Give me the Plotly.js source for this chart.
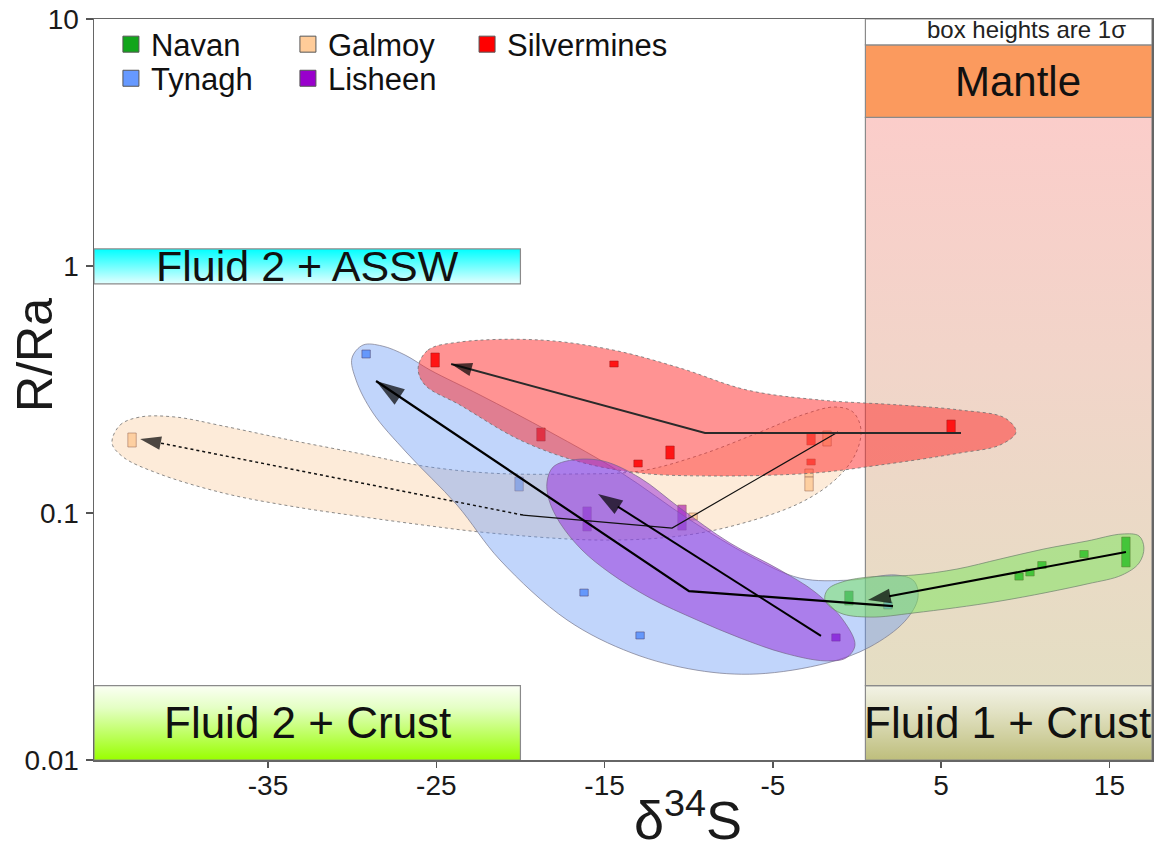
<!DOCTYPE html>
<html><head><meta charset="utf-8">
<script src="https://cdn.plot.ly/plotly-3.0.1.min.js"></script>
<style>html,body{margin:0;padding:0;background:#fff;} #chart{width:1162px;height:849px;}</style>
</head><body><div id="chart"></div>
<script>
// ---------- data (δ34S, R/Ra with 1σ box bounds) ----------
const navanX = [15.98, 13.49, 10.99, 10.28, 9.63, -0.48];
const navanLow = [0.0605, 0.0660, 0.0596, 0.0556, 0.0535, 0.0424];
const navanHigh = [0.0799, 0.0705, 0.0636, 0.0593, 0.0572, 0.0483];

const tynaghX = [-29.17, -20.08, -16.22, -12.89, 1.84];
const tynaghLow = [0.4242, 0.1228, 0.0461, 0.0309, 0.0409];
const tynaghHigh = [0.4570, 0.1398, 0.0492, 0.0330, 0.0436];

const lisheenX = [-16.04, -10.40, -1.25];
const lisheenLow = [0.0846, 0.0853, 0.0303];
const lisheenHigh = [0.1058, 0.1077, 0.0324];

const galmoyX = [-43.08, -9.74, -1.78, -2.85, -2.85];
const galmoyLow = [0.1850, 0.0937, 0.1867, 0.1398, 0.1228];
const galmoyHigh = [0.2108, 0.1000, 0.2148, 0.1507, 0.1398];

const silverX = [-25.07, -14.44, -18.78, -11.11, -13.01, -2.73, -2.73, 5.59];
const silverLow = [0.3901, 0.3901, 0.1956, 0.1654, 0.1535, 0.1885, 0.1564, 0.2108];
const silverHigh = [0.4444, 0.4124, 0.2208, 0.1867, 0.1639, 0.2108, 0.1654, 0.2379];

// ---------- field envelopes ----------
const silverEnvX = [-26.08,-25.49,-23.59,-18.84,-14.50,-10.52,-6.54,-2.20,2.55,6.12,8.79,9.45,8.50,6.12,1.37,-2.61,-8.56,-12.89,-16.46,-20.02,-23.59,-25.67];
const silverEnvY = [0.3864,0.4570,0.4924,0.5017,0.4570,0.3864,0.3148,0.2868,0.2736,0.2612,0.2424,0.2128,0.1885,0.1749,0.1564,0.1451,0.1412,0.1451,0.1609,0.1974,0.2736,0.3298];

const galmoyEnvX = [-44.27,-43.79,-42.60,-40.52,-37.67,-33.69,-29.71,-25.79,-21.81,-17.05,-12.89,-9.33,-5.76,-3.09,-1.31,-0.24,0.24,-0.12,-1.31,-3.39,-6.95,-10.52,-15.27,-21.81,-25.79,-29.71,-33.69,-37.67,-41.59,-43.61];
const galmoyEnvY = [0.1920,0.2271,0.2447,0.2447,0.2250,0.1974,0.1749,0.1550,0.1451,0.1438,0.1479,0.1717,0.2128,0.2516,0.2686,0.2563,0.2168,0.1717,0.1360,0.1098,0.0903,0.0807,0.0777,0.0830,0.0894,0.0972,0.1067,0.1205,0.1451,0.1685];

const tynaghEnvX = [-29.35,-28.22,-26.86,-25.37,-22.40,-18.24,-14.08,-9.92,-6.36,-3.39,-0.42,2.32,3.39,3.62,2.85,0.77,-1.78,-5.94,-9.51,-13.37,-17.23,-21.21,-23.77,-26.74,-28.76,-29.77,-30.01];
const tynaghEnvY = [0.4788,0.4745,0.4363,0.3793,0.3004,0.2128,0.1466,0.0937,0.0670,0.0545,0.0535,0.0561,0.0530,0.0453,0.0365,0.0287,0.0247,0.0223,0.0231,0.0271,0.0369,0.0645,0.1077,0.1749,0.2540,0.3455,0.4242];

const lisheenEnvX = [-18.42,-18.06,-16.93,-15.09,-12.89,-10.52,-7.55,-4.58,-2.50,-0.83,-0.12,-0.65,-1.90,-4.34,-6.95,-9.51,-12.30,-14.68,-16.34,-17.65,-18.30];
const lisheenEnvY = [0.1335,0.1535,0.1639,0.1624,0.1386,0.1048,0.0756,0.0588,0.0479,0.0369,0.0292,0.0259,0.0252,0.0271,0.0312,0.0369,0.0453,0.0572,0.0708,0.0911,0.1129];

const navanEnvX = [-1.90,-1.72,-0.71,0.77,3.39,5.94,8.50,11.11,13.67,15.75,16.76,17.05,16.76,15.75,13.67,8.50,3.39,0.77,-1.01];
const navanEnvY = [0.0444,0.0492,0.0530,0.0551,0.0561,0.0593,0.0651,0.0715,0.0770,0.0822,0.0807,0.0722,0.0627,0.0561,0.0516,0.0440,0.0394,0.0379,0.0394];

// ---------- evolution paths ----------
const navanPathX = [15.98, 0.65];           const navanPathY = [0.0695, 0.0444];
const tynaghPathX = [2.14, -9.98, -28.58];  const tynaghPathY = [0.0420, 0.0483, 0.3422];
const lisheenPathX = [-2.14, -15.39];       const lisheenPathY = [0.0318, 0.1194];
const silverPathX = [6.18, -9.03, -24.12];  const silverPathY = [0.2108, 0.2108, 0.4010];
const galmoyPathX = [-1.13, -10.99, -19.85]; const galmoyPathY = [0.2128, 0.0869, 0.0981];
const galmoyDotX = [-19.85, -42.60];        const galmoyDotY = [0.0981, 0.1993];

// ---------- legend / labels ----------
const legendRow1 = ['Navan', 'Galmoy'];
const legendRow1b = ['Silvermines'];
const legendRow2 = ['Tynagh', 'Lisheen'];
const xTickVals = [-35, -25, -15, -5, 5, 15];
const xTickText = ['-35', '-25', '-15', '-5', '5', '15'];
const yTickVals = [0.01, 0.1, 1, 10];
const yTickText = ['0.01', '0.1', '1', '10'];

const colors = {Navan:'#11a51b', Tynagh:'#6699ff', Galmoy:'#ffcc99', Lisheen:'#9900cc', Silvermines:'#ff0000'};

// ---------- traces ----------
function boxTrace(name, xs, lo, hi) {
  return {type:'bar', name, x: xs, base: lo, y: hi.map((h, i) => h - lo[i]), width: 0.5,
    marker:{color: colors[name], line:{color:'rgba(60,0,0,0.5)', width:1}},
    showlegend:false, hoverinfo:'skip'};
}
function close(a) { return a.concat([a[0]]); }
function envTrace(xs, ys, fill, lineColor, dash) {
  return {type:'scatter', mode:'lines', x: close(xs), y: close(ys), fill:'toself', fillcolor: fill,
    line:{shape:'spline', smoothing:1, color: lineColor, width:1, dash: dash || 'solid'},
    showlegend:false, hoverinfo:'skip'};
}
function pathTrace(xs, ys, color, width, headSize, dash) {
  return {type:'scatter', mode:'lines+markers', x: xs, y: ys,
    line:{color, width, dash: dash || 'solid'},
    marker:{symbol:'arrow', angleref:'previous', size: xs.map((_, i) => i === xs.length - 1 ? headSize : 0), color:'#000', line:{width:0}},
    showlegend:false, hoverinfo:'skip'};
}
function legendTrace(name, leg) {
  return {type:'scatter', mode:'markers', x:[null], y:[null], name, legend: leg,
    marker:{symbol:'square', size:20, color: colors[name], line:{color:'#555', width:1}}, hoverinfo:'skip'};
}

const data = [
  boxTrace('Navan', navanX, navanLow, navanHigh),
  boxTrace('Tynagh', tynaghX, tynaghLow, tynaghHigh),
  boxTrace('Lisheen', lisheenX, lisheenLow, lisheenHigh),
  boxTrace('Galmoy', galmoyX, galmoyLow, galmoyHigh),
  boxTrace('Silvermines', silverX, silverLow, silverHigh),
  envTrace(galmoyEnvX, galmoyEnvY, 'rgba(250,210,170,0.45)', 'rgba(110,110,110,0.8)', 'dot'),
  envTrace(tynaghEnvX, tynaghEnvY, 'rgba(100,150,245,0.40)', 'rgba(120,120,140,0.7)'),
  envTrace(silverEnvX, silverEnvY, 'rgba(255,40,40,0.50)', 'rgba(110,110,110,0.8)', 'dot'),
  envTrace(lisheenEnvX, lisheenEnvY, 'rgba(150,40,220,0.50)', 'rgba(120,100,140,0.7)'),
  envTrace(navanEnvX, navanEnvY, 'rgba(120,230,90,0.50)', 'rgba(110,130,110,0.7)'),
  pathTrace(galmoyPathX, galmoyPathY, '#111', 1.2, 0),
  pathTrace(galmoyDotX, galmoyDotY, '#111', 1.5, 22, 'dot'),
  pathTrace(silverPathX, silverPathY, '#2a2a2a', 2, 22),
  pathTrace(tynaghPathX, tynaghPathY, '#000', 2.2, 30),
  pathTrace(lisheenPathX, lisheenPathY, '#000', 2, 26),
  pathTrace(navanPathX, navanPathY, '#000', 2, 24),
].concat(
  legendRow1.map(n => legendTrace(n, 'legend')),
  legendRow1b.map(n => legendTrace(n, 'legend3')),
  legendRow2.map(n => legendTrace(n, 'legend2')));

// ---------- background gradient panels ----------
function grad(stops) {
  const s = stops.map(([o, c]) => `<stop offset='${o}' stop-color='${c}'/>`).join('');
  const svg = `<svg xmlns='http://www.w3.org/2000/svg' width='100' height='100' viewBox='0 0 100 100' preserveAspectRatio='none'><defs><linearGradient id='g' x1='0' y1='0' x2='0' y2='1'>${s}</linearGradient></defs><rect x='0' y='0' width='100' height='100' fill='url(#g)'/></svg>`;
  return 'data:image/svg+xml;charset=utf-8,' + encodeURIComponent(svg);
}
const L = Math.log10;
const X_MIN = -45.34, X_MAX = 17.53;
function img(src, x0, x1, yTop, yBot) {
  return {source: src, xref:'x', yref:'y', x: x0, y: L(yTop), sizex: x1 - x0, sizey: L(yTop) - L(yBot),
    sizing:'stretch', xanchor:'left', yanchor:'top', layer:'below'};
}
function rect(x0, x1, y0, y1, fill) {
  return {type:'rect', xref:'x', yref:'y', x0, x1, y0, y1, fillcolor: fill || 'rgba(0,0,0,0)',
    line:{color:'#8a8a8a', width:1.2}, layer:'between'};
}
function legendBox(x, y, entryWidth) {
  const o = {orientation:'h', x, y, xanchor:'left', yanchor:'top', font:{size:31, color:'#111'},
    bgcolor:'rgba(0,0,0,0)', borderwidth:0, itemclick:false, itemdoubleclick:false};
  if (entryWidth) { o.entrywidth = entryWidth; o.entrywidthmode = 'pixels'; }
  return o;
}

const layout = {
  width:1162, height:849,
  margin:{l:94, r:10, t:19, b:89, pad:0},
  paper_bgcolor:'#ffffff', plot_bgcolor:'#ffffff',
  font:{family:'Liberation Sans, Arial, sans-serif', color:'#1a1a1a'},
  barmode:'overlay',
  showlegend:true,
  xaxis:{range:[X_MIN, X_MAX], tickvals:xTickVals, ticktext:xTickText, ticks:'outside', ticklen:6, tickwidth:1.5,
    tickcolor:'#555', showgrid:false, zeroline:false, showline:true, linecolor:'#666', linewidth:1.5, mirror:true,
    tickfont:{size:28, color:'#1a1a1a'}, ticklabelstandoff:-6},
  yaxis:{type:'log', range:[-2, 1], tickvals:yTickVals, ticktext:yTickText, ticks:'outside', ticklen:7, tickwidth:1.5,
    tickcolor:'#555', showgrid:false, zeroline:false, showline:true, linecolor:'#666', linewidth:1.5, mirror:true,
    tickfont:{size:28, color:'#1a1a1a'}, ticklabelstandoff:1},
  legend: legendBox(0.016, 1.002, 132),
  legend3: legendBox(0.3526, 1.002, 0),
  legend2: legendBox(0.016, 0.956, 132),
  images:[
    img(grad([[0,'#fbcdca'],[0.45,'#f1d5c9'],[1,'#e4dec3']]), 0.5, X_MAX, 4, 0.02),
    img(grad([[0,'#f3f3e6'],[0.35,'#e2e2c4'],[1,'#bebe7c']]), 0.5, X_MAX, 0.02, 0.01),
    img(grad([[0,'#fbfff4'],[0.3,'#e4ffc4'],[1,'#99ff00']]), X_MIN, -20, 0.02, 0.01),
    img(grad([[0,'#00ffff'],[1,'#e4ffff']]), X_MIN, -20, 1.172, 0.846),
  ],
  shapes:[
    rect(0.5, X_MAX, 0.02, 4),
    rect(0.5, X_MAX, 0.01, 0.02),
    rect(X_MIN, -20, 0.01, 0.02),
    rect(X_MIN, -20, 0.846, 1.172),
    rect(0.5, X_MAX, 4, 7.85, '#fb9a5e'),
    rect(0.5, X_MAX, 7.85, 10, '#ffffff'),
  ],
  annotations:[
    {text:'Fluid 2 + ASSW', xref:'x', yref:'y', x:-32.68, y:L(1.0), showarrow:false, font:{size:43, color:'#111'}},
    {text:'Fluid 2 + Crust', xref:'x', yref:'y', x:-32.68, y:L(0.01425), showarrow:false, font:{size:44, color:'#111'}},
    {text:'Fluid 1 + Crust', xref:'x', yref:'y', x:8.97, y:L(0.01425), showarrow:false, font:{size:44, color:'#111'}},
    {text:'Mantle', xref:'x', yref:'y', x:9.57, y:0.745, showarrow:false, font:{size:42, color:'#111'}},
    {text:'box heights are 1σ', xref:'x', yref:'y', x:10.1, y:0.9555, showarrow:false, font:{size:24, color:'#222'}},
    {text:'R/Ra', xref:'paper', yref:'paper', x:-0.0558, y:0.5466, xanchor:'center', yanchor:'middle', textangle:-90,
      showarrow:false, font:{size:50, color:'#1a1a1a'}},
    {text:'δ<sup>34</sup>S', xref:'paper', yref:'paper', x:(688 - 94) / 1058, y:(760 - 816) / 741, xanchor:'center', yanchor:'middle',
      showarrow:false, font:{size:54, color:'#1a1a1a'}},
  ],
};

Plotly.newPlot('chart', data, layout, {displayModeBar:false, staticPlot:true});
</script>
</body></html>
